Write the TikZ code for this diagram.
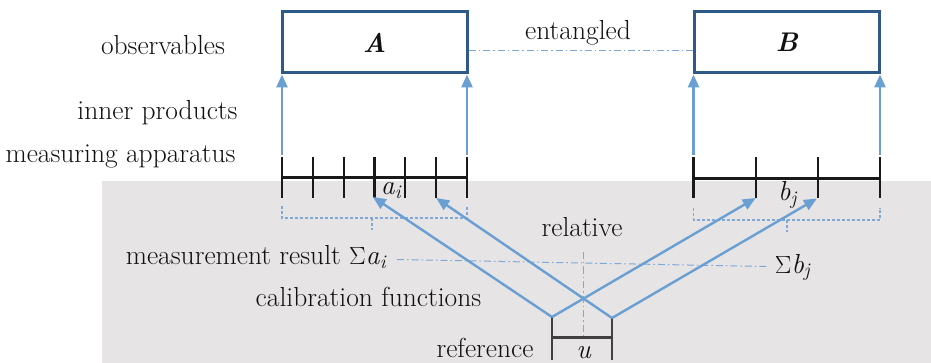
\documentclass[tikz,border=0pt]{standalone}
\usepackage{fontspec}
\usetikzlibrary{arrows.meta}
\definecolor{bgray}{HTML}{E6E4E4}
\definecolor{boxblue}{HTML}{2E5A87}
\definecolor{arrblue}{HTML}{6A9FD4}
\definecolor{lblue}{HTML}{7FA9D8}
\definecolor{txt}{HTML}{111111}
\tikzset{
  lbl/.style={font=\fontsize{27.5}{32}\selectfont, inner sep=0pt, text=txt},
  obsbox/.style={draw=boxblue, line width=3pt, fill=white, minimum width=185pt, minimum height=61pt, inner sep=0pt, font=\fontsize{27}{32}\selectfont\bfseries\itshape, text=txt},
  uparrow/.style={draw=arrblue, line width=2.6pt, -{Triangle[width=11pt,length=13pt]}},
  calarrow/.style={draw=arrblue, line width=2.4pt, -{Triangle[width=11pt,length=13pt]}},
  tickline/.style={draw=black!90, line width=2.2pt},
  refline/.style={draw=black!75, line width=2.6pt},
  dashdot/.style={draw=lblue, line width=1pt, dash pattern=on 7pt off 3pt on 1.5pt off 3pt},
  bracket/.style={draw=lblue, line width=1.1pt, dash pattern=on 3pt off 2pt},
}
\begin{document}
\begin{tikzpicture}[x=1pt,y=-1pt]
\useasboundingbox (0,0) rectangle (931,363);
\clip (0,0) rectangle (931,363);
% background
\fill[bgray] (102,181) rectangle (931,363);

% boxes
\node[obsbox] (A) at (374.5,42.5) {A};
\node[obsbox] (B) at (787,42.5) {B};

% left labels
\node[lbl, anchor=base] (obs) at (163,55) {observables};
\node[lbl, anchor=base] (inner) at (157.5,120) {inner products};
\node[lbl, anchor=base] (meas) at (120.5,163) {measuring apparatus};

% entangled
\node[lbl, anchor=base] (ent) at (578,40) {entangled};
\coordinate (eline) at (467,50.5);
\draw[dashdot] (A.east |- eline) -- (B.west |- eline);

% ruler A
\foreach \i/\x in {0/282,1/312.8,2/343.7,3/374.5,4/405.3,5/436.2,6/467} {
  \coordinate (at\i) at (\x,157);
  \coordinate (ab\i) at (\x,198);
  \draw[tickline] (at\i) -- (ab\i);
}
\draw[tickline] (282,177.5) -- (467,177.5);
% ruler B
\foreach \i/\x in {0/693.5,1/755.7,2/817.8,3/880} {
  \coordinate (bt\i) at (\x,157);
  \coordinate (bb\i) at (\x,198);
  \draw[tickline] (bt\i) -- (bb\i);
}
\draw[tickline] (693.5,178.5) -- (880,178.5);

% inner product arrows
\coordinate (aA0) at (282,155);
\coordinate (aA6) at (467,155);
\coordinate (aB0) at (693.5,155);
\coordinate (aB3) at (880,155);
\draw[uparrow] (aA0) -- (aA0 |- A.south);
\draw[uparrow] (aA6) -- (aA6 |- A.south);
\draw[uparrow] (aB0) -- (aB0 |- B.south);
\draw[uparrow] (aB3) -- (aB3 |- B.south);

% tick labels
\node[lbl, anchor=base] (ai) at (391.5,195) {\textit{a}\textsubscript{\textit{i}}};
\node[lbl, anchor=base] (bj) at (788,201) {\textit{b}\textsubscript{\textit{j}}};

% brackets
\draw[bracket] (282,206) -- (282,218) -- (467,218) -- (467,206);
\draw[bracket] (372,218) -- (372,230);
\draw[bracket] (693.5,208) -- (693.5,220) -- (880,220) -- (880,208);
\draw[bracket] (787,220) -- (787,232);

% reference
\coordinate (rL) at (552,317);
\coordinate (rR) at (612,318);
\draw[refline] (rL) -- (552,360);
\draw[refline] (rR) -- (612,360);
\draw[refline] (552,337.5) -- (612,337.5);
\node[lbl, anchor=base] (ref) at (485,357) {reference};
\node[lbl, anchor=base] (u) at (584,358) {\textit{u}};

% relative lines
\draw[dashdot] (583,252) -- (583,338);
\draw[dashdot] (397,259.5) -- (767,266.5);
\node[lbl, anchor=base] (rel) at (582,237) {relative};
\node[lbl, anchor=base] (sa) at (256.5,265) {measurement result $\Sigma$\textit{a}\textsubscript{\textit{i}}};
\node[lbl, anchor=base] (sb) at (793,273) {$\Sigma$\textit{b}\textsubscript{\textit{j}}};
\node[lbl, anchor=base] (cal) at (368.5,306.5) {calibration functions};

% calibration arrows
\draw[calarrow, shorten >=-2pt] (rL) -- (ab3);
\draw[calarrow, shorten >=0pt] (rR) -- (ab5);
\draw[calarrow, shorten >=0pt] (rL) -- (bb1);
\draw[calarrow, shorten >=1pt] (rR) -- (bb2);
\end{tikzpicture}
\end{document}
